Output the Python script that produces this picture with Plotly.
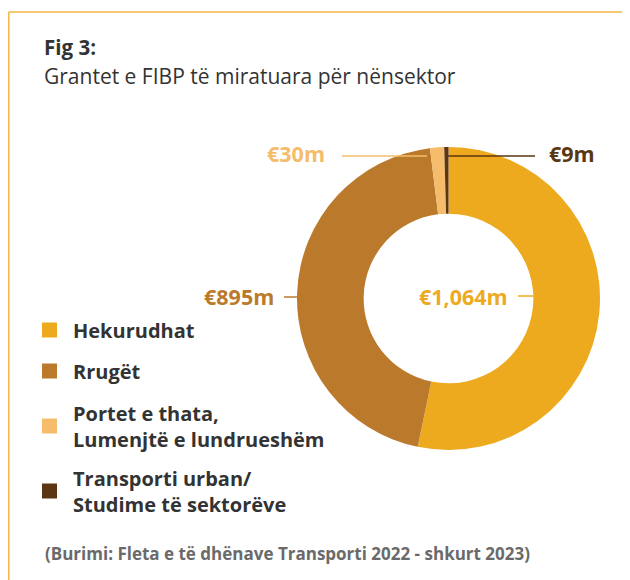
import plotly.graph_objects as go

# data
categories = ["Hekurudhat", "Rrugët", "Portet e thata,<br>Lumenjtë e lundrueshëm",
              "Transporti urban/<br>Studime të sektorëve"]
values = [1064, 895, 30, 9]
value_labels = ["€1,064m", "€895m", "€30m", "€9m"]
colors = ["#EDAA1F", "#BB7A2B", "#F5BC6C", "#5B3612"]

# the page body has an 8px margin, so the figure is drawn 8px in from the window
OFF = 8
W, H = 630 - OFF, 580 - OFF
FONT = "Open Sans"


def px(x):
    return (x - OFF) / W


def py(y):
    return 1 - (y - OFF) / H


fig = go.Figure(go.Pie(
    values=values,
    labels=categories,
    marker=dict(colors=colors, line=dict(width=0)),
    hole=0.56,
    sort=False,
    direction="clockwise",
    rotation=0,
    textinfo="none",
    showlegend=False,
    domain=dict(x=[px(297), px(600)], y=[py(450), py(147)]),
))

shapes = []
annotations = []

# frame (top and left edges)
shapes.append(dict(type="line", xref="paper", yref="paper", x0=px(8.8), x1=1, y0=py(12), y1=py(12),
                   line=dict(color="#F4B548", width=1.5)))
shapes.append(dict(type="line", xref="paper", yref="paper", x0=px(8.8), x1=px(8.8), y0=py(12), y1=0,
                   line=dict(color="#F4B548", width=1.5)))

# titles
annotations.append(dict(text="<b>Fig 3:</b>", x=px(42), y=py(47), xanchor="left", yanchor="middle",
                        font=dict(size=20.5, color="#333333", family=FONT)))
annotations.append(dict(text="Grantet e FIBP të miratuara për nënsektor", x=px(42), y=py(76),
                        xanchor="left", yanchor="middle",
                        font=dict(size=21, color="#333333", family=FONT)))

# value labels and leader lines
label_pos = [(417, 296, "left"), (276, 296, "right"), (327, 153, "right"), (547, 153, "left")]
leader = [(518, 533, 296), (284, 297, 297), (342, 427, 156), (447, 535, 156)]
for txt, col, (lx, ly, anc), (x0, x1, yl) in zip(value_labels, colors, label_pos, leader):
    annotations.append(dict(text="<b>" + txt + "</b>", x=px(lx), y=py(ly), xanchor=anc, yanchor="middle",
                            font=dict(size=21.5, color=col, family=FONT)))
    shapes.append(dict(type="line", xref="paper", yref="paper", x0=px(x0), x1=px(x1), y0=py(yl), y1=py(yl),
                       line=dict(color=col, width=1.5)))

# legend
legend_y = [330, 371, 426, 491]
for cat, col, ly in zip(categories, colors, legend_y):
    shapes.append(dict(type="rect", xref="paper", yref="paper", x0=px(42), x1=px(57),
                       y0=py(ly + 7.5), y1=py(ly - 7.5), fillcolor=col, line=dict(width=0)))
    annotations.append(dict(text="<b>" + cat + "</b>", x=px(71), y=py(ly), xanchor="left", yanchor="middle",
                            align="left", font=dict(size=20, color="#333333", family=FONT)))

# source
annotations.append(dict(text="<b>(Burimi: Fleta e të dhënave Transporti 2022 - shkurt 2023)</b>",
                        x=px(43), y=py(553), xanchor="left", yanchor="middle",
                        font=dict(size=17, color="#6A6A6A", family=FONT)))

for a in annotations:
    a.update(xref="paper", yref="paper", showarrow=False)

fig.update_layout(
    width=W, height=H,
    margin=dict(l=0, r=0, t=0, b=0),
    paper_bgcolor="white",
    plot_bgcolor="white",
    shapes=shapes,
    annotations=annotations,
)

fig.write_html("out.html")
